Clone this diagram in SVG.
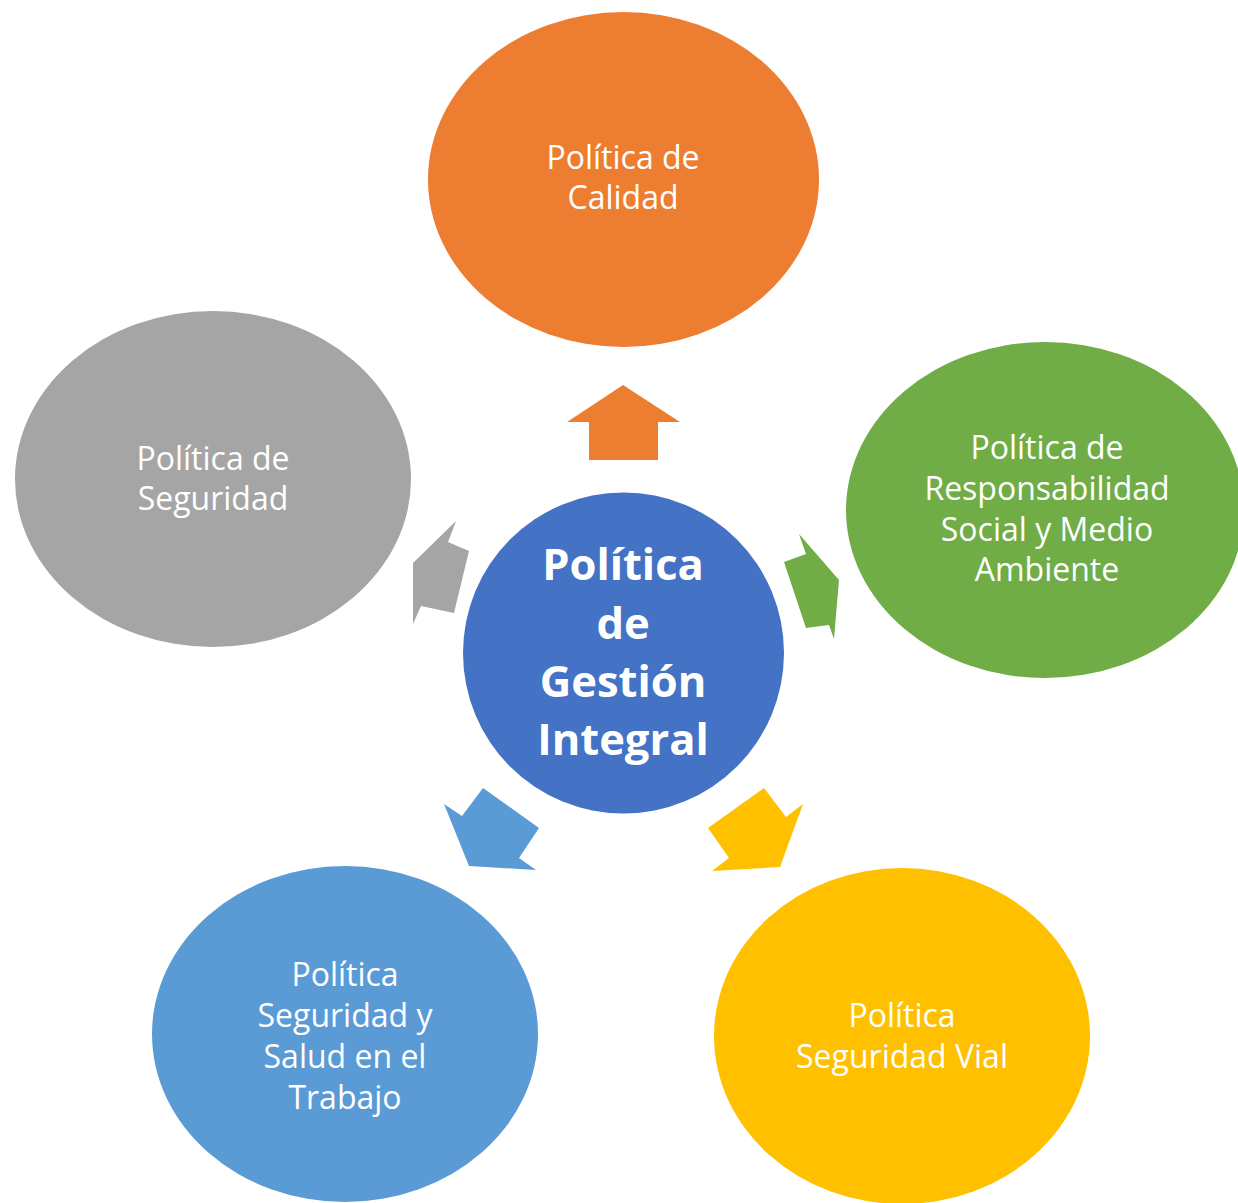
<svg xmlns="http://www.w3.org/2000/svg" width="1238" height="1203" viewBox="0 0 1238 1203">
<style>
.t{font-family:"Open Sans","Noto Sans","Liberation Sans",sans-serif;font-size:32px;fill:#fff;text-anchor:middle;dominant-baseline:central}
.c{font-family:"Open Sans","Noto Sans","Liberation Sans",sans-serif;font-size:43.5px;font-weight:bold;fill:#fff;text-anchor:middle;dominant-baseline:central}
</style>
<rect width="1238" height="1203" fill="#fff"/>
<g id="connectors">
<polygon points="623,385 680,422 658,422 658,460 589,460 589,422 567,422" fill="#ED7D31"/>
<polygon points="456,521 448,542 469,551 454,613 421,606 413,624 413,563" fill="#A5A5A5"/>
<polygon points="799,534 806,554 784,562 806,628 829,625 834,639 839,580" fill="#70AD47"/>
<polygon points="444,804 462,816 483,788 539,828 519,858 536,870 469,866" fill="#5B9BD5"/>
<polygon points="764,788 786,817 803,804 780,867 712,871 729,858 708,828" fill="#FFC000"/>
</g>
<g id="calidad">
<ellipse cx="623.5" cy="179.5" rx="195.5" ry="167.5" fill="#ED7D31"/>
<text class="t" x="623" y="156">Política de</text>
<text class="t" x="623" y="196">Calidad</text>
</g>
<g id="seguridad">
<ellipse cx="213" cy="479" rx="198" ry="168" fill="#A5A5A5"/>
<text class="t" x="213" y="457">Política de</text>
<text class="t" x="213" y="497">Seguridad</text>
</g>
<g id="responsabilidad">
<ellipse cx="1045" cy="510" rx="199" ry="168" fill="#70AD47"/>
<text class="t" x="1047" y="446">Política de</text>
<text class="t" x="1047" y="487">Responsabilidad</text>
<text class="t" x="1047" y="528">Social y Medio</text>
<text class="t" x="1047" y="568">Ambiente</text>
</g>
<g id="sst">
<ellipse cx="345" cy="1034" rx="193" ry="168" fill="#5B9BD5"/>
<text class="t" x="345" y="973">Política</text>
<text class="t" x="345" y="1014">Seguridad y</text>
<text class="t" x="345" y="1055">Salud en el</text>
<text class="t" x="345" y="1096">Trabajo</text>
</g>
<g id="vial">
<ellipse cx="902" cy="1036" rx="188" ry="168" fill="#FFC000"/>
<text class="t" x="902" y="1014">Política</text>
<text class="t" x="902" y="1055">Seguridad Vial</text>
</g>
<g id="centro">
<circle cx="623.5" cy="653" r="160.5" fill="#4472C4"/>
<text class="c" x="623" y="563">Política</text>
<text class="c" x="623" y="622">de</text>
<text class="c" x="623" y="680">Gestión</text>
<text class="c" x="623" y="738">Integral</text>
</g>
</svg>
